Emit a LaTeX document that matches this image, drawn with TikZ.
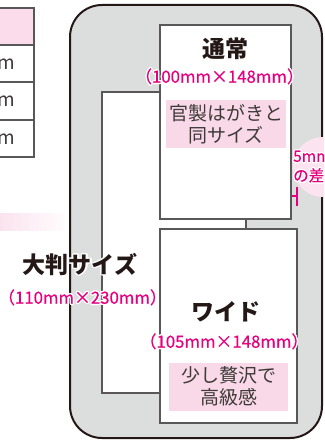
\documentclass[tikz,border=0pt]{standalone}
\usepackage{fontspec}
\setmainfont{Noto Sans CJK JP}
\newfontfamily\dimfont{Noto Sans CJK JP}[FakeBold=0.5]
\usepackage{contour}
\contourlength{1.3pt}
\definecolor{mag}{HTML}{E4007F}
\definecolor{graybg}{HTML}{DCDDDD}
\definecolor{frameline}{HTML}{231815}
\definecolor{cardline}{HTML}{595757}
\definecolor{notepink}{HTML}{F9D9E7}
\definecolor{headpink}{HTML}{FADCEA}
\definecolor{circlepink}{HTML}{FBE4EF}
\definecolor{bandpink}{HTML}{FBE3EE}
\definecolor{textblack}{HTML}{231815}
\definecolor{textgray}{HTML}{3E3A39}
\usetikzlibrary{shadings}
\begin{document}
\begin{tikzpicture}[x=1pt,y=-1pt,
  frame/.style={draw=frameline, line width=2pt, fill=graybg, rounded corners=32pt},
  card/.style={draw=cardline, line width=1.1pt, fill=white},
  tabline/.style={draw=cardline, line width=1.3pt},
  title/.style={font=\fontsize{23}{26}\selectfont\bfseries, text=textblack, inner sep=0pt},
  dim/.style={font=\dimfont\fontsize{16.8}{18}\selectfont, text=mag, inner sep=0pt},
  small/.style={font=\dimfont\fontsize{15.5}{17}\selectfont, text=mag, inner sep=0pt, anchor=west},
  notebox/.style={fill=notepink},
  notetext/.style={font=\fontsize{19}{21.5}\selectfont, text=textgray, align=center, inner sep=0pt},
  tabtext/.style={font=\fontsize{19}{21}\selectfont, text=textgray, inner sep=0pt, anchor=east},
  marker/.style={draw=mag, line width=1.6pt}
]
\useasboundingbox (0,0) rectangle (324,441);
\clip (0,0) rectangle (324,441);
% table at left
\fill[headpink] (-5,8) rectangle (34,45);
\draw[tabline] (-5,8) rectangle (34,157);
\draw[tabline] (-5,45) -- (34,45);
\draw[tabline] (-5,82) -- (34,82);
\draw[tabline] (-5,120) -- (34,120);
\node[tabtext] (t1) at (15,64) {m};
\node[tabtext] (t2) at (15,101) {m};
\node[tabtext] (t3) at (15,139) {m};
% pink band
\shade[left color=bandpink, right color=white] (0,213) rectangle (72,230);
% frame
\draw[frame] (70,5) rectangle (322,438);
% cards
\draw[card] (102,92) rectangle (246,393);
\draw[card] (160,25) rectangle (291,219);
\draw[card] (160,229) rectangle (297,423);
% notes
\fill[notebox] (166,100) rectangle (286,148);
\node[notetext] (n1) at (226,124) {官製はがきと\\同サイズ};
\fill[notebox] (169,363) rectangle (288,411);
\node[notetext] (n2) at (228.5,386.5) {少し贅沢で\\高級感};
% 5mm circle
\fill[circlepink] (323,167) circle (30pt);
\node[small] (s1) at (293,157) {\contour{white}{5mm}};
\node[small] (s2) at (293,176) {\contour{white}{の差}};
\coordinate (ma) at (291.5,196);
\coordinate (mb) at (297,196);
\coordinate (mc) at (297,187);
\coordinate (md) at (297,206);
\draw[marker] (ma) -- (mb);
\draw[marker] (mc) -- (md);
% labels
\node[title] (l1) at (225,49) {通常};
\node[dim] (d1) at (219.5,77) {\contour{white}{（100mm×148mm）}};
\node[title] (l2) at (80,265) {\contour{white}{大判サイズ}};
\node[dim] (d2) at (82.5,298) {\contour{white}{（110mm×230mm）}};
\node[title] (l3) at (226,312) {ワイド};
\node[dim] (d3) at (224,342) {\contour{white}{（105mm×148mm）}};
\end{tikzpicture}
\end{document}
